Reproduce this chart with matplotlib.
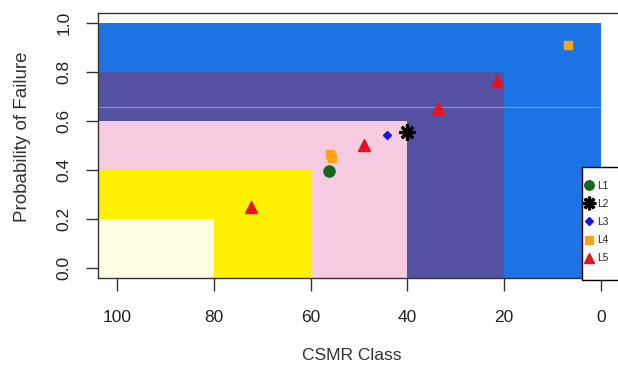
import matplotlib
matplotlib.use("Agg")
import matplotlib.pyplot as plt
from matplotlib.patches import Rectangle

plt.rcParams['font.family'] = ['Liberation Sans', 'DejaVu Sans']

# Risk zones: CSMR class edge and probability ceiling
zone_class_edge = [0, 20, 40, 60, 80]
zone_prob_top = [1.0, 0.8, 0.6, 0.4, 0.2]
zone_colors = ["#1C74E4", "#5451A3", "#F7CBE0", "#FFF100", "#FFFDE2"]

# Series
L1_x = [56.3]
L1_y = [0.395]
L2_x = [40.1]
L2_y = [0.557]
L3_x = [44.3]
L3_y = [0.541]
L4_x = [56.0, 55.5, 6.75]
L4_y = [0.466, 0.448, 0.909]
L5_x = [72.4, 48.9, 33.7, 21.4]
L5_y = [0.250, 0.502, 0.652, 0.764]

x_ticks = [100, 80, 60, 40, 20, 0]
y_ticks = [0.0, 0.2, 0.4, 0.6, 0.8, 1.0]

W, H = 618, 369
fig = plt.figure(figsize=(W / 100, H / 100), dpi=100)
ax = fig.add_axes([97.6 / W, 1 - 277.8 / H, (620.4 - 97.6) / W, (277.8 - 13.2) / H])
ax.set_xlim(104, -4)
ax.set_ylim(-0.04, 1.04)

for edge, top, col in zip(zone_class_edge, zone_prob_top, zone_colors):
    ax.fill_between([edge, 110], -1, top, color=col, linewidth=0, zorder=1)

ax.hlines(0.657, 0, 110, color="#8E8ED2", linewidth=0.8, zorder=1.5)

ax.plot(L1_x, L1_y, linestyle='none', marker='o', markersize=8, color="#10691C", label="L1", zorder=3)
ax.plot(L2_x, L2_y, linestyle='none', marker=(8, 2, 0), markersize=11.5, markeredgewidth=2.3,
        color="black", label="L2", zorder=3)
ax.plot(L3_x, L3_y, linestyle='none', marker='D', markersize=4.5, color="#1414EE", label="L3", zorder=3)
ax.plot(L4_x, L4_y, linestyle='none', marker='s', markersize=6.3, color="#F8A41A", label="L4", zorder=3)
ax.plot(L5_x, L5_y, linestyle='none', marker='^', markersize=8, color="#E8121F", label="L5", zorder=3)

# legend frame (R style, at bottom right corner)
ax.add_patch(Rectangle((0.927, -0.01), 0.2, 0.429, transform=ax.transAxes, facecolor="white",
                       edgecolor="black", linewidth=1.0, zorder=4, clip_on=False))
leg = ax.legend(loc='center left', bbox_to_anchor=(0.933, 0.211), frameon=False, fontsize=7.3,
                handlelength=0.8, handletextpad=0.35, borderpad=0, labelspacing=0.8,
                markerscale=0.85, borderaxespad=0)
for t in leg.get_texts():
    t.set_color("#222222")
leg.set_zorder(5)

ax.set_xticks(x_ticks)
ax.set_xticklabels([str(v) for v in x_ticks])
ax.set_yticks(y_ticks)
ax.set_yticklabels(["%.1f" % v for v in y_ticks], rotation=90, va='center')
ax.tick_params(axis='both', length=9, width=1, color="#333333", labelsize=12.5, labelcolor="#222222")
ax.tick_params(axis='x', pad=14)
ax.tick_params(axis='y', pad=10)
for s in ax.spines.values():
    s.set_linewidth(1.0)
    s.set_color("#333333")

ax.set_xlabel("CSMR Class", fontsize=12.5, color="#333333")
ax.xaxis.set_label_coords((352 - 97.6) / (620.4 - 97.6), (277.8 - 348) / (277.8 - 13.2))
ax.set_ylabel("Probability of Failure", fontsize=13.5, color="#333333")
ax.yaxis.set_label_coords((31 - 97.6) / (620.4 - 97.6), (277.8 - 137) / (277.8 - 13.2))

fig.savefig("out.png", dpi=100)
